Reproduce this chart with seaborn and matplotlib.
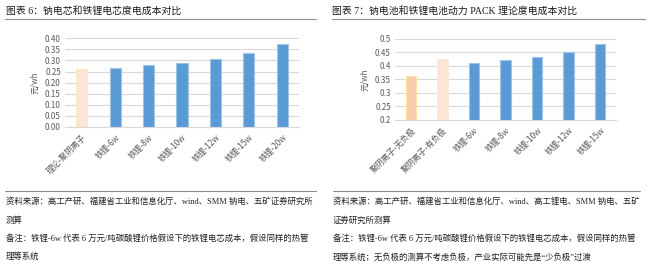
import matplotlib
matplotlib.use("Agg")
import matplotlib.pyplot as plt
import seaborn as sns
import pandas as pd
from matplotlib.lines import Line2D

sns.set_theme(style="white")
plt.rcParams['font.family'] = ['Noto Sans CJK SC', 'DejaVu Sans']

# ---- data ----
left_title = "图表 6：钠电芯和铁锂电芯度电成本对比"
left_categories = ["理论-聚阴离子", "铁锂-6w", "铁锂-8w", "铁锂-10w", "铁锂-12w", "铁锂-15w", "铁锂-20w"]
left_values = [0.26, 0.266, 0.278, 0.289, 0.305, 0.333, 0.374]
left_yticks = [0.00, 0.05, 0.10, 0.15, 0.20, 0.25, 0.30, 0.35, 0.40]
left_yticklabels = ["0.00", "0.05", "0.10", "0.15", "0.20", "0.25", "0.30", "0.35", "0.40"]

right_title = "图表 7：钠电池和铁锂电池动力 PACK 理论度电成本对比"
right_categories = ["聚阴离子-无负极", "聚阴离子-有负极", "铁锂-6w", "铁锂-8w", "铁锂-10w", "铁锂-12w", "铁锂-15w"]
right_values = [0.363, 0.426, 0.41, 0.421, 0.434, 0.451, 0.48]
right_yticks = [0.2, 0.25, 0.3, 0.35, 0.4, 0.45, 0.5]
right_yticklabels = ["0.2", "0.25", "0.3", "0.35", "0.4", "0.45", "0.5"]

y_label = "元/wh"

left_notes = [
    "资料来源：高工产研、福建省工业和信息化厅、wind、SMM 钠电、五矿证券研究所",
    "测算",
    "备注：铁锂-6w 代表 6 万元/吨碳酸锂价格假设下的铁锂电芯成本，假设同样的热管",
    "理等系统",
]
right_notes = [
    "资料来源：高工产研、福建省工业和信息化厅、wind、高工锂电、SMM 钠电、五矿",
    "证券研究所测算",
    "备注：铁锂-6w 代表 6 万元/吨碳酸锂价格假设下的铁锂电芯成本，假设同样的热管",
    "理等系统；无负极的测算不考虑负极，产业实际可能先是“少负极”过渡",
]

# ---- styles ----
BLUE = "#5B9BD5"
BLUE_EDGE = "#9DC3E6"
left_face = ["#FCE4D6"] + [BLUE] * 6
left_edge = ["#FFE9B0"] + [BLUE_EDGE] * 6
right_face = ["#F8CBAD", "#FBE5D6"] + [BLUE] * 5
right_edge = ["#FFE4A0", "#FCE9DC"] + [BLUE_EDGE] * 5

W, H = 650, 275
fig = plt.figure(figsize=(W / 100, H / 100), dpi=100)
fig.patch.set_facecolor("white")

text_fam = ['Liberation Serif', 'Noto Sans CJK SC']


def px_axes(x0, y0, x1, y1):
    return fig.add_axes([x0 / W, 1 - y1 / H, (x1 - x0) / W, (y1 - y0) / H])


def draw_panel(ax, cats, vals, faces, edges, yticks, yticklabels, ylim):
    df = pd.DataFrame({"cat": cats, "val": vals})
    sns.barplot(data=df, x="cat", y="val", hue="cat", palette=faces, legend=False,
                width=0.33, ax=ax, zorder=3, saturation=1)
    for p, ec in zip(ax.patches, edges):
        p.set_edgecolor(ec)
        p.set_linewidth(0.8)
    ax.set_ylim(*ylim)
    ax.set_xlim(-0.5, len(cats) - 0.5)
    ax.set_yticks(yticks)
    ax.set_yticklabels(yticklabels, fontsize=5.8, color="#595959")
    ax.set_xticks(range(len(cats)))
    ax.set_xticklabels(cats, rotation=45, ha="right", rotation_mode="anchor",
                       fontsize=5.9, color="#595959")
    ax.tick_params(axis="both", length=0, pad=3)
    ax.tick_params(axis="x", pad=4)
    ax.yaxis.grid(True, color="#D9D9D9", linewidth=0.8, zorder=0)
    ax.set_axisbelow(True)
    for s in ["top", "right", "left"]:
        ax.spines[s].set_visible(False)
    ax.spines["bottom"].set_color("#D9D9D9")
    ax.spines["bottom"].set_linewidth(0.8)
    ax.set_xlabel("")
    ax.set_ylabel(y_label, fontsize=5.8, color="#595959", labelpad=4)


axL = px_axes(65, 38.3, 299, 127)
draw_panel(axL, left_categories, left_values, left_face, left_edge,
           left_yticks, left_yticklabels, (0, 0.40))

axR = px_axes(395, 39, 616, 120)
draw_panel(axR, right_categories, right_values, right_face, right_edge,
           right_yticks, right_yticklabels, (0.2, 0.5))

# titles
fig.text(6 / W, 1 - 11 / H, left_title, fontsize=7.1, color="#1A1A1A",
         va="center", ha="left", family=text_fam, fontweight="medium")
fig.text(332 / W, 1 - 11 / H, right_title, fontsize=7.1, color="#1A1A1A",
         va="center", ha="left", family=text_fam, fontweight="medium")

# separator lines
for (x0, x1) in [(5, 316), (332, 645)]:
    fig.add_artist(Line2D([x0 / W, x1 / W], [1 - 18.5 / H, 1 - 18.5 / H],
                          color="#8C8C8C", linewidth=0.8))
for (x0, x1) in [(5, 316), (333, 640)]:
    fig.add_artist(Line2D([x0 / W, x1 / W], [1 - 190.7 / H, 1 - 190.7 / H],
                          color="#8C8C8C", linewidth=0.8))

# notes
rows = [201, 220.5, 238.5, 257]
for txt, y in zip(left_notes, rows):
    fig.text(6 / W, 1 - y / H, txt, fontsize=6.05, color="#222222",
             va="center", ha="left", family=text_fam)
for txt, y in zip(right_notes, rows):
    fig.text(333 / W, 1 - y / H, txt, fontsize=6.05, color="#222222",
             va="center", ha="left", family=text_fam)

fig.savefig("out.png", dpi=100, facecolor="white")
